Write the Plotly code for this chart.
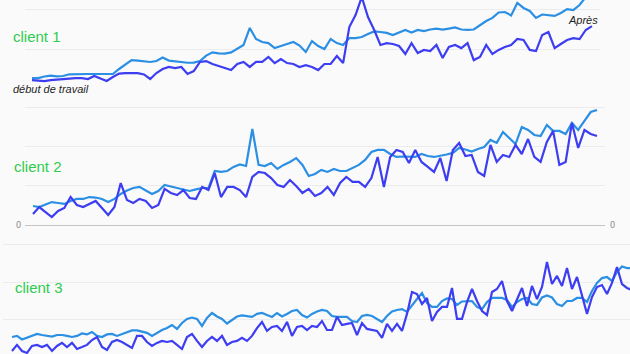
import plotly.graph_objects as go

# ---------------- data (relative interest, 0-100 scale) ----------------
weeks_c1 = list(range(91))
weeks_c2 = list(range(91))
weeks_c3 = list(range(126))

c1_light = [31.4, 31.4, 32.4, 33.0, 32.5, 32.7, 33.8, 34.0, 34.0, 34.0, 34.0, 34.0, 33.6, 34.0, 37.2,
            39.9, 42.9, 42.6, 42.3, 41.7, 42.3, 44.5, 42.6, 42.0, 41.7, 41.2, 41.3, 42.3, 45.8, 47.9,
            47.2, 47.0, 47.8, 50.1, 52.6, 63.5, 56.4, 54.5, 53.8, 50.6, 51.7, 53.2, 54.5, 52.2, 48.1,
            55.1, 51.9, 50.0, 56.4, 53.8, 52.6, 57.0, 57.0, 57.7, 59.6, 61.3, 60.9, 60.3, 59.0, 60.6,
            62.2, 60.6, 62.2, 61.5, 62.5, 63.0, 62.4, 63.1, 63.8, 62.5, 62.2, 62.5, 65.4, 67.9, 69.9,
            73.4, 73.7, 71.5, 79.5, 76.3, 74.4, 69.9, 72.1, 71.8, 71.2, 73.1, 75.6, 75.0, 78.2, 83.3, 87.8]
c1_dark = [30.1, 29.8, 29.5, 30.1, 30.4, 30.8, 31.4, 31.4, 31.4, 30.8, 32.7, 31.1, 29.5, 32.1, 34.3,
           34.6, 34.6, 34.6, 33.7, 30.8, 34.6, 37.2, 38.5, 37.8, 38.5, 34.0, 35.9, 41.7, 42.3, 40.4,
           39.1, 37.8, 36.5, 40.4, 41.7, 38.5, 41.7, 41.7, 44.9, 41.0, 43.6, 41.0, 40.4, 38.5, 39.7,
           38.5, 36.5, 40.4, 40.4, 45.5, 41.0, 64.1, 71.8, 83.3, 70.5, 62.2, 52.6, 53.8, 53.2, 51.9,
           46.8, 53.8, 47.4, 49.4, 48.7, 52.6, 44.2, 51.3, 52.6, 50.6, 53.8, 42.9, 44.9, 52.6, 46.8,
           49.4, 51.3, 52.6, 56.4, 55.8, 49.4, 48.7, 59.0, 60.9, 50.6, 53.2, 55.8, 57.0, 56.4, 62.2, 64.7]

c2_light = [12.2, 11.5, 13.1, 14.7, 14.1, 13.5, 15.4, 16.7, 16.7, 17.9, 17.6, 16.7, 14.7, 16.7, 19.9,
            22.1, 23.7, 24.4, 22.1, 19.9, 21.8, 25.6, 24.7, 23.7, 22.4, 21.8, 22.8, 23.7, 23.7, 34.6,
            34.0, 34.6, 37.2, 38.8, 37.8, 61.5, 38.5, 37.8, 39.7, 35.9, 38.5, 40.4, 42.9, 38.5, 31.4,
            32.7, 35.3, 34.0, 35.9, 34.6, 34.6, 36.5, 38.5, 41.7, 46.8, 48.1, 48.1, 45.5, 43.6, 43.9,
            43.6, 43.6, 45.5, 44.2, 43.6, 44.2, 45.2, 46.2, 49.4, 48.4, 47.1, 48.7, 50.0, 54.5, 52.6,
            59.6, 55.8, 51.9, 62.8, 60.9, 57.7, 57.0, 64.1, 60.3, 60.3, 58.3, 65.4, 60.9, 66.7, 72.4, 73.7]
c2_dark = [7.1, 11.5, 8.3, 5.1, 9.0, 10.9, 17.9, 12.8, 11.5, 13.5, 15.4, 10.9, 6.4, 11.5, 26.9,
           16.0, 14.1, 16.7, 15.4, 10.9, 12.8, 23.1, 20.5, 19.2, 22.4, 17.3, 16.7, 24.4, 22.4, 33.3,
           17.9, 24.4, 24.4, 22.4, 17.9, 30.8, 34.0, 33.3, 30.1, 25.6, 24.4, 28.8, 25.0, 20.5, 23.1,
           18.6, 20.5, 24.4, 19.2, 26.9, 30.8, 27.6, 27.6, 24.4, 30.1, 43.6, 24.4, 43.6, 48.1, 46.8,
           39.7, 48.1, 40.4, 37.2, 34.0, 42.9, 28.2, 48.1, 52.6, 44.2, 44.9, 34.0, 31.4, 51.3, 40.4,
           44.9, 43.6, 51.3, 45.5, 55.1, 43.6, 40.4, 53.2, 60.3, 38.5, 40.4, 65.4, 49.4, 60.9, 58.3, 57.0]

c3_light = [13.8, 14.5, 12.2, 13.5, 14.8, 15.8, 15.1, 14.5, 14.1, 15.1, 15.1, 14.5, 13.8, 14.5, 16.1,
            15.5, 17.1, 14.5, 13.8, 15.5, 15.8, 14.5, 15.8, 17.1, 18.1, 18.1, 17.4, 16.5, 14.5, 16.5,
            18.4, 19.7, 21.7, 19.1, 23.0, 25.7, 26.6, 25.7, 21.1, 26.3, 29.6, 27.3, 25.7, 22.7, 25.0,
            27.3, 28.0, 27.6, 27.0, 29.0, 29.6, 28.3, 27.0, 29.6, 27.3, 29.0, 30.9, 31.6, 28.3, 26.6,
            29.0, 30.6, 31.6, 30.9, 27.6, 27.0, 27.0, 27.0, 24.3, 23.7, 27.6, 28.3, 27.6, 25.7, 23.7,
            27.6, 30.6, 31.6, 32.2, 30.3, 34.9, 38.8, 42.8, 36.2, 33.6, 33.6, 37.5, 39.2, 38.8, 34.9,
            37.2, 37.5, 37.5, 33.6, 32.2, 36.8, 39.5, 39.5, 39.5, 38.2, 33.6, 36.8, 38.8, 39.5, 35.5,
            34.9, 39.8, 41.1, 39.8, 35.5, 34.2, 37.5, 37.5, 39.5, 39.5, 36.8, 44.1, 49.4, 52.6, 53.3,
            50.7, 56.6, 60.2, 59.2, 59.2, 56.6]
c3_dark = [4.6, 8.6, 4.6, 3.3, 7.9, 8.6, 7.2, 8.6, 4.6, 7.9, 9.9, 7.2, 9.9, 5.9, 7.2,
           8.6, 11.8, 13.8, 7.2, 5.3, 10.5, 11.8, 10.5, 8.6, 6.6, 14.5, 14.5, 10.5, 7.9, 9.9,
           11.2, 10.5, 11.2, 8.6, 5.9, 13.8, 15.8, 11.2, 7.2, 11.2, 13.8, 11.2, 14.5, 8.6, 10.5,
           11.2, 13.2, 11.2, 14.5, 19.7, 23.7, 17.8, 20.4, 21.1, 17.8, 23.7, 14.5, 20.4, 21.1, 18.4,
           21.1, 20.4, 24.3, 18.4, 18.4, 27.0, 21.7, 22.4, 23.0, 15.1, 23.0, 19.1, 18.4, 17.8, 13.2,
           22.4, 17.8, 22.4, 17.8, 29.0, 43.4, 42.1, 35.5, 39.5, 24.3, 30.3, 33.6, 33.6, 46.1, 25.7,
           25.7, 36.8, 45.4, 37.5, 30.9, 28.3, 43.4, 45.4, 50.7, 37.5, 30.9, 38.8, 46.1, 34.2, 47.4,
           38.8, 46.7, 63.2, 48.7, 54.0, 47.4, 59.2, 45.4, 53.3, 41.5, 29.0, 40.1, 46.7, 48.0, 42.1,
           49.4, 59.9, 48.7, 46.1, 44.7, 44.1]

panel_labels = ["client 1", "client 2", "client 3"]
note_start = "début de travail"
note_after = "Après"
zero_label = "0"

# ---------------- styling ----------------
LIGHT = "#2b8fe4"
DARK = "#3d3df2"
GREEN = "#2fcc4f"
GRID = "#ececec"
BG = "#fafafa"
W, H = 630, 354

def px_x(p):
    return p / W

def px_y(p):
    return 1 - p / H

fig = go.Figure()

panels = [
    (weeks_c1, c1_light, c1_dark, "x", "y"),
    (weeks_c2, c2_light, c2_dark, "x2", "y2"),
    (weeks_c3, c3_light, c3_dark, "x3", "y3"),
]
for wk, light, dark, xa, ya in panels:
    fig.add_trace(go.Scatter(x=wk, y=light, mode="lines", xaxis=xa, yaxis=ya,
                             line=dict(color=LIGHT, width=2.2), showlegend=False, hoverinfo="skip"))
    fig.add_trace(go.Scatter(x=wk, y=dark, mode="lines", xaxis=xa, yaxis=ya,
                             line=dict(color=DARK, width=2.2), showlegend=False, hoverinfo="skip"))

xcommon = dict(showgrid=False, zeroline=False, showticklabels=False, showline=False, ticks="")
ycommon = dict(showgrid=True, gridcolor=GRID, gridwidth=1, showticklabels=False,
               showline=False, ticks="")

fig.update_layout(
    width=W, height=H,
    margin=dict(l=0, r=0, t=0, b=0),
    paper_bgcolor=BG, plot_bgcolor=BG,
    xaxis=dict(domain=[px_x(25), px_x(600)], range=[-1.125, 91.29], anchor="y", **xcommon),
    yaxis=dict(domain=[px_y(101), 1], range=[16.7, 81.4], anchor="x",
               tickvals=[50, 75], zeroline=False, **ycommon),
    xaxis2=dict(domain=[px_x(25), px_x(605)], range=[-1.277, 91.28], anchor="y2", **xcommon),
    yaxis2=dict(domain=[px_y(225), px_y(100)], range=[0, 80.1], anchor="x2",
                tickvals=[25, 50, 75], zeroline=True, zerolinecolor="#c4c4c4",
                zerolinewidth=1, **ycommon),
    xaxis3=dict(domain=[px_x(3), 1], range=[-1.8, 123.6], anchor="y3", **xcommon),
    yaxis3=dict(domain=[0, px_y(226)], range=[2.6, 86.9], anchor="x3",
                tickvals=[25, 50, 75], zeroline=False, **ycommon),
    font=dict(family="Liberation Sans, Arial, sans-serif"),
)

label_y = [px_y(37), px_y(166), px_y(287)]
label_x = [px_x(11), px_x(12), px_x(13)]
for txt, lx, ly in zip(panel_labels, label_x, label_y):
    fig.add_annotation(text=txt, x=lx, y=ly, xref="paper", yref="paper",
                       xanchor="left", yanchor="middle", showarrow=False,
                       font=dict(size=15, color=GREEN, family="Liberation Sans, Arial, sans-serif"))

fig.add_annotation(text="<i>" + note_start + "</i>", x=px_x(11), y=px_y(89),
                   xref="paper", yref="paper", xanchor="left", yanchor="middle",
                   showarrow=False, font=dict(size=11, color="#1e1e1e"))
fig.add_annotation(text="<i>" + note_after + "</i>", x=px_x(566), y=px_y(20),
                   xref="paper", yref="paper", xanchor="left", yanchor="middle",
                   showarrow=False, font=dict(size=11, color="#1e1e1e"))

for zx in (px_x(18), px_x(612)):
    fig.add_annotation(text=zero_label, x=zx, y=0, xref="paper", yref="y2",
                       xanchor="center", yanchor="middle", showarrow=False,
                       font=dict(size=9, color="#8a8a8a", family="Roboto, sans-serif"))

fig.write_html("out.html")
